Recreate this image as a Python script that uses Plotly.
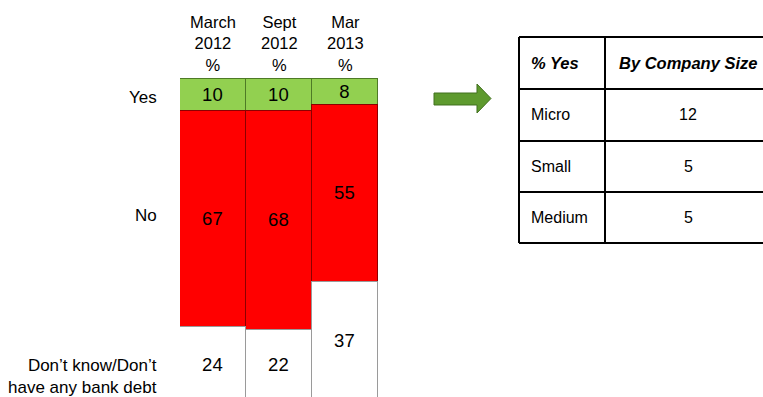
import plotly.graph_objects as go

W, H = 763, 397

# ---- data ----
periods = ["March 2012", "Sept 2012", "Mar 2013"]
period_headers = ["March<br>2012<br>%", "Sept<br>2012<br>%", "Mar<br>2013<br>%"]
yes_vals = [10, 10, 8]
no_vals = [67, 68, 55]
dk_vals = [24, 22, 37]
row_labels = ["Yes", "No", "Don’t know/Don’t<br>have any bank debt"]
table_header = ["% Yes", "By Company Size"]
size_names = ["Micro", "Small", "Medium"]
size_yes = [12, 5, 5]

FONT = "Liberation Sans, Arial, Helvetica, sans-serif"


def px(x):
    return x / W


def py(y):
    return 1 - y / H


fig = go.Figure()

series = [
    ("Yes", yes_vals, "#92D050", "#4E7A26"),
    ("No", no_vals, "#FF0000", "#8B0000"),
    ("Don’t know", dk_vals, "#FFFFFF", "#9A9A9A"),
]
for name, vals, fill, edge in series:
    fig.add_trace(go.Bar(
        x=periods, y=vals, name=name,
        marker=dict(color=fill, line=dict(color=edge, width=1.2)),
        text=[str(v) for v in vals],
        textposition="inside", insidetextanchor="middle",
        constraintext="none", textangle=0,
        textfont=dict(size=18.5, color="black", family=FONT),
        hoverinfo="skip",
    ))

annotations = []
# column headers
for cat, hdr in zip(periods, period_headers):
    annotations.append(dict(
        x=cat, xref="x", y=py(43), yref="paper", text=hdr, showarrow=False,
        xanchor="center", yanchor="middle",
        font=dict(size=16.5, color="black", family=FONT),
    ))

# row labels on the left
label_y = [98, 215, 376.5]
for lab, yy in zip(row_labels, label_y):
    annotations.append(dict(
        x=px(159), xref="paper", y=py(yy), yref="paper", text=lab,
        showarrow=False, xanchor="right", yanchor="middle", align="right",
        font=dict(size=17, color="black", family=FONT),
    ))

# table
col_x = [519, 605, 775]
row_y = [37, 89, 141, 192, 243]
shapes = []
for yy in row_y:
    shapes.append(dict(type="line", xref="paper", yref="paper",
                       x0=px(col_x[0]), x1=px(col_x[-1]), y0=py(yy), y1=py(yy),
                       line=dict(color="black", width=2)))
for xx in col_x:
    shapes.append(dict(type="line", xref="paper", yref="paper",
                       x0=px(xx), x1=px(xx), y0=py(row_y[0]), y1=py(row_y[-1]),
                       line=dict(color="black", width=2)))

hdr_y = (row_y[0] + row_y[1]) / 2
annotations.append(dict(
    x=px(529), xref="paper", y=py(hdr_y), yref="paper",
    text="<b><i>" + table_header[0] + "</i></b>", showarrow=False,
    xanchor="left", yanchor="middle", font=dict(size=16.5, color="black", family=FONT)))
annotations.append(dict(
    x=px(688), xref="paper", y=py(hdr_y), yref="paper",
    text="<b><i>" + table_header[1] + "</i></b>", showarrow=False,
    xanchor="center", yanchor="middle", font=dict(size=16.5, color="black", family=FONT)))
for i, (nm, v) in enumerate(zip(size_names, size_yes)):
    cy = (row_y[i + 1] + row_y[i + 2]) / 2
    annotations.append(dict(
        x=px(529), xref="paper", y=py(cy), yref="paper", text=nm, showarrow=False,
        xanchor="left", yanchor="middle", font=dict(size=16, color="black", family=FONT)))
    annotations.append(dict(
        x=px(688), xref="paper", y=py(cy), yref="paper", text=str(v), showarrow=False,
        xanchor="center", yanchor="middle", font=dict(size=16, color="black", family=FONT)))

# arrow
arrow_pts = [(434, 93), (477, 93), (477, 84), (491, 98.5), (477, 113), (477, 105), (434, 105)]
path = "M " + " L ".join(f"{px(a):.5f},{py(b):.5f}" for a, b in arrow_pts) + " Z"
shapes.append(dict(type="path", xref="paper", yref="paper", path=path,
                   fillcolor="#5E9A2E", line=dict(color="#41701E", width=1)))

# y scale: value 0 at pixel 79, 3.22 px per unit, axis reversed
top_px, ppu = 79, 3.22
y_top = -top_px / ppu
y_bottom = (H - top_px) / ppu

fig.update_layout(
    width=W, height=H,
    margin=dict(l=0, r=0, t=0, b=0),
    paper_bgcolor="white", plot_bgcolor="white",
    barmode="stack", bargap=0,
    showlegend=False,
    xaxis=dict(domain=[px(180), px(378)], showticklabels=False, showgrid=False,
               zeroline=False, showline=False, ticks=""),
    yaxis=dict(domain=[0, 1], range=[y_bottom, y_top], autorange=False,
               showticklabels=False, showgrid=False, zeroline=False,
               showline=False, ticks=""),
    annotations=annotations,
    shapes=shapes,
    font=dict(family=FONT),
)

fig.write_html(
    "out.html",
    config={"displayModeBar": False},
    post_script="document.body.style.margin='0';document.body.style.overflow='hidden';",
)
